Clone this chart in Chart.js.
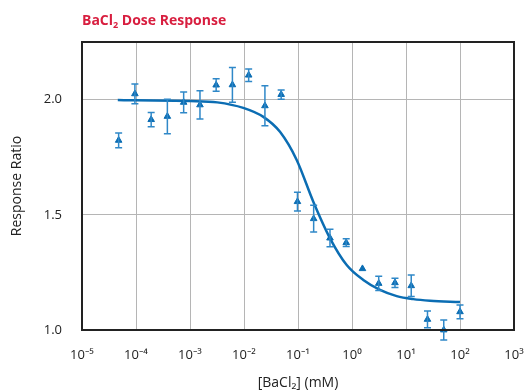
<!DOCTYPE html>
<html><head><meta charset="utf-8">
<script src="https://cdn.jsdelivr.net/npm/chart.js@4"></script>
<style>html,body{margin:0;padding:0;background:#fff}#wrap{width:525px;height:391px}</style>
</head><body><div id="wrap"><canvas id="c" width="525" height="391"></canvas></div>
<script>
// Measured doses (mM) and responses
const doses = [4.77e-5, 9.54e-5, 1.91e-4, 3.81e-4, 7.63e-4, 1.53e-3, 3.05e-3, 6.10e-3, 0.0122, 0.0244, 0.0488, 0.0977, 0.195, 0.391, 0.781, 1.5625, 3.125, 6.25, 12.5, 25, 50, 100];
const responses = [1.823, 2.025, 1.913, 1.927, 1.988, 1.977, 2.063, 2.064, 2.106, 1.973, 2.022, 1.557, 1.483, 1.399, 1.379, 1.266, 1.202, 1.205, 1.192, 1.046, 1.0, 1.079];
const errors = [0.032, 0.043, 0.031, 0.075, 0.045, 0.061, 0.027, 0.075, 0.027, 0.087, 0.020, 0.041, 0.058, 0.038, 0.017, 0, 0.031, 0.020, 0.047, 0.036, 0.043, 0.030];
// Fitted curve
const fitX = [4.6e-5, 1e-4, 1e-3, 3.2e-3, 9.7e-3, 0.0228, 0.0464, 0.0946, 0.192, 0.392, 0.798, 1.62, 3.30, 6.73, 13.6, 27.8, 100];
const fitY = [1.998, 1.997, 1.994, 1.988, 1.964, 1.925, 1.860, 1.738, 1.557, 1.398, 1.282, 1.217, 1.174, 1.147, 1.134, 1.127, 1.121];
// Ticks
const xTickValues = [1e-5, 1e-4, 1e-3, 1e-2, 1e-1, 1, 10, 100, 1000];
const xTickLabels = ['10\u207B\u2075', '10\u207B\u2074', '10\u207B\u00B3', '10\u207B\u00B2', '10\u207B\u00B9', '10\u2070', '10\u00B9', '10\u00B2', '10\u00B3'];
const yTickValues = [1.0, 1.5, 2.0];
const yTickLabels = ['1.0', '1.5', '2.0'];

const BLUE = '#0b6db3';
const ERR = '#2f88c8';
const FONT = '"Open Sans", "Noto Sans", sans-serif';

const errorBars = {
  id: 'errorBars',
  afterDatasetsDraw(chart) {
    const ctx = chart.ctx, xs = chart.scales.x, ys = chart.scales.y;
    ctx.save();
    ctx.strokeStyle = ERR; ctx.lineWidth = 1.5;
    doses.forEach((d, i) => {
      const e = errors[i]; if (!e) return;
      const px = xs.getPixelForValue(d);
      const y1 = ys.getPixelForValue(responses[i] + e), y2 = ys.getPixelForValue(responses[i] - e);
      ctx.beginPath();
      ctx.moveTo(px, y1); ctx.lineTo(px, y2);
      ctx.moveTo(px - 3.5, y1); ctx.lineTo(px + 3.5, y1);
      ctx.moveTo(px - 3.5, y2); ctx.lineTo(px + 3.5, y2);
      ctx.stroke();
    });
    ctx.restore();
  }
};
const frame = {
  id: 'frame',
  afterDraw(chart) {
    const ctx = chart.ctx, a = chart.chartArea;
    ctx.save();
    ctx.strokeStyle = '#222'; ctx.lineWidth = 2;
    ctx.strokeRect(a.left, a.top, a.right - a.left, a.bottom - a.top);
    // title
    ctx.fillStyle = '#d81e3f';
    ctx.textBaseline = 'alphabetic';
    let x = a.left, y = 25;
    ctx.font = 'bold 14px ' + FONT;
    ctx.fillText('BaCl', x, y); x += ctx.measureText('BaCl').width;
    ctx.font = 'bold 9px ' + FONT;
    ctx.fillText('2', x, y + 3); x += ctx.measureText('2').width;
    ctx.font = 'bold 14px ' + FONT;
    ctx.fillText(' Dose Response', x, y);
    ctx.restore();
  }
};

new Chart(document.getElementById('c'), {
  data: {
    datasets: [
      { type: 'line', data: fitX.map((x, i) => ({x, y: fitY[i]})), borderColor: BLUE, borderWidth: 2.5,
        pointRadius: 0, cubicInterpolationMode: 'monotone', fill: false, order: 2 },
      { type: 'scatter', data: doses.map((x, i) => ({x, y: responses[i]})), pointStyle: 'triangle',
        pointRadius: 3.8, backgroundColor: BLUE, borderColor: BLUE, borderWidth: 1, clip: false, order: 1 }
    ]
  },
  options: {
    responsive: false, animation: false,
    layout: { padding: { left: 0, right: 11, top: 42, bottom: 0 } },
    plugins: { legend: { display: false }, tooltip: { enabled: false }, title: { display: false } },
    scales: {
      x: {
        type: 'logarithmic', min: 1e-5, max: 1e3,
        afterBuildTicks: s => { s.ticks = xTickValues.map(v => ({value: v})); },
        afterFit: s => { s.height = 61; s.paddingLeft = 0; s.paddingRight = 0; },
        ticks: { callback: (v, i) => xTickLabels[i], color: '#222', font: { family: FONT, size: 13 }, padding: 17, autoSkip: false, maxRotation: 0 },
        grid: { color: '#b5b5b5', lineWidth: 1, drawTicks: false },
        border: { display: false },
        title: { display: true, text: '[BaCl\u2082] (mM)', color: '#222', font: { family: FONT, size: 14 }, padding: { top: 0, bottom: 0 } }
      },
      y: {
        type: 'linear', min: 1.0, max: 2.25,
        afterBuildTicks: s => { s.ticks = yTickValues.map(v => ({value: v})); },
        afterFit: s => { s.width = 82; s.paddingTop = 0; s.paddingBottom = 0; },
        ticks: { callback: (v, i) => yTickLabels[i], color: '#222', font: { family: FONT, size: 13 }, padding: 20 },
        grid: { color: '#b5b5b5', lineWidth: 1, drawTicks: false },
        border: { display: false },
        title: { display: true, text: 'Response Ratio', color: '#222', font: { family: FONT, size: 14 }, padding: { top: 9, bottom: 0 } }
      }
    }
  },
  plugins: [errorBars, frame]
});
</script></body></html>
